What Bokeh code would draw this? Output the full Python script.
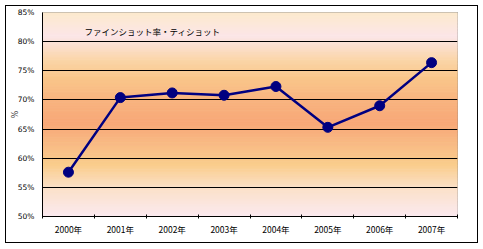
import numpy as np
from bokeh.plotting import figure
from bokeh.models import Range1d, FixedTicker, ColumnDataSource
from bokeh.core.properties import value
from bokeh.embed import file_html
from bokeh.resources import INLINE

# ---- data ----
years = ["2000年", "2001年", "2002年", "2003年", "2004年", "2005年", "2006年", "2007年"]
rates = [57.6, 70.4, 71.2, 70.8, 72.3, 65.3, 69.0, 76.4]
y_ticks = [50, 55, 60, 65, 70, 75, 80, 85]
y_tick_labels = ["50%", "55%", "60%", "65%", "70%", "75%", "80%", "85%"]
title_text = ["ファインショット率・ティショット"]
y_label = "%"

FONT = "Noto Sans CJK JP"
idx = list(range(len(years)))

p = figure(width=473, height=238, output_backend="svg", toolbar_location=None,
           x_range=Range1d(-0.5, len(years) - 0.5), y_range=Range1d(50, 85),
           min_border_left=36, min_border_right=22, min_border_top=6, min_border_bottom=28)
p.margin = (5, 0, 0, 5)
p.styles = {"border": "1px solid black"}
p.background_fill_color = "white"
p.border_fill_color = "white"
p.outline_line_color = "#808080"
p.outline_line_width = 1

# gradient background (style only)
stops_v = [50, 55, 59, 62, 66, 70, 74, 77, 81, 85]
stops_c = np.array([
    (252, 234, 240), (251, 225, 200), (250, 205, 140), (249, 190, 135),
    (248, 168, 120), (249, 180, 128), (250, 200, 140), (251, 214, 170),
    (252, 230, 232), (252, 234, 206)], dtype=float)
edges = np.linspace(50, 85, 141)
mids = (edges[:-1] + edges[1:]) / 2
cols = []
for m in mids:
    r = np.interp(m, stops_v, stops_c[:, 0])
    g = np.interp(m, stops_v, stops_c[:, 1])
    b = np.interp(m, stops_v, stops_c[:, 2])
    cols.append("#%02x%02x%02x" % (int(r), int(g), int(b)))
bg = p.quad(left=-0.5, right=len(years) - 0.5, bottom=edges[:-1], top=edges[1:],
            fill_color=cols, line_color=cols, line_width=1)
bg.level = "image"

# grid
p.xgrid.visible = False
p.ygrid.ticker = FixedTicker(ticks=y_ticks[1:-1])
p.ygrid.grid_line_color = "black"
p.ygrid.grid_line_width = 1

src = ColumnDataSource(dict(x=idx, y=rates))
p.line("x", "y", source=src, line_color="#000080", line_width=2.5)
p.scatter("x", "y", source=src, size=10, fill_color="#000080", line_color="#000080")

p.text(x=[0], y=[81.9], text=title_text, x_offset=16, text_align="left",
       text_baseline="middle", text_font=value(FONT), text_font_size="8.5px", text_color="black")

# axes
xa = p.xaxis[0]
xa.ticker = FixedTicker(ticks=idx, minor_ticks=[i - 0.5 for i in range(len(years) + 1)])
xa.major_label_overrides = {i: years[i] for i in idx}
xa.major_tick_line_color = None
xa.major_tick_in = 0
xa.major_tick_out = 0
xa.minor_tick_in = 2
xa.minor_tick_out = 2
xa.minor_tick_line_color = "black"
xa.axis_line_color = "black"
xa.major_label_text_font = FONT
xa.major_label_text_font_size = "8.5px"
xa.major_label_text_color = "black"
xa.major_label_standoff = 4

ya = p.yaxis[0]
ya.ticker = FixedTicker(ticks=y_ticks)
ya.major_label_overrides = {v: l for v, l in zip(y_ticks, y_tick_labels)}
ya.major_tick_line_color = None
ya.major_tick_in = 0
ya.major_tick_out = 0
ya.minor_tick_line_color = None
ya.minor_tick_out = 0
ya.minor_tick_in = 0
ya.axis_line_color = "black"
ya.major_label_text_font = "DejaVu Sans"
ya.major_label_text_font_size = "7.5px"
ya.major_label_text_color = "black"
ya.major_label_standoff = 8
ya.axis_label = y_label
ya.axis_label_text_font = "DejaVu Sans"
ya.axis_label_text_font_size = "8px"
ya.axis_label_text_font_style = "normal"
ya.axis_label_standoff = -5

open("out.html", "w").write(file_html(p, INLINE))
